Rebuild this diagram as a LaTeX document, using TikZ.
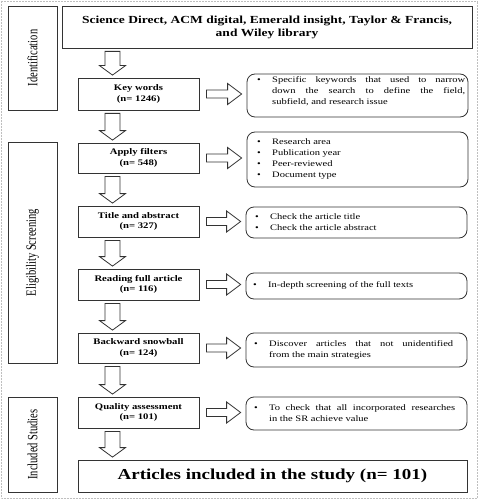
\documentclass[tikz,border=0pt]{standalone}
\usepackage{fontspec}
\usepackage{graphicx}
\setmainfont{Liberation Serif}
\usetikzlibrary{calc}
\newlength\bind
\setlength\bind{12pt}
\newcommand\bitem[1]{\par\noindent\hangindent=\bind\hangafter=1\makebox[\bind][l]{\textbullet}#1\par}
\newcommand\hs[1]{\scalebox{1.25}[1]{#1}}
\newcommand\two[2]{\hs{#1}\\\hs{#2}}
\newcommand\vs[1]{\scalebox{1}[1.35]{#1}}
\tikzset{
  frame/.style={draw=black!80, line width=0.8pt, inner sep=0pt},
  mainbox/.style={frame, minimum width=121pt, align=center,
     font=\bfseries\fontsize{8.56}{10.5}\selectfont},
  sidebox/.style={frame, minimum width=49pt},
  notebox/.style={frame, rounded corners=8pt, minimum width=221pt},
  notetext/.style={anchor=west, inner sep=0pt,
     font=\fontsize{8.4}{11}\selectfont},
  sidelabel/.style={rotate=90, inner sep=0pt, font=\fontsize{10.5}{11}\selectfont},
  blk/.style={draw=black!80, line width=0.8pt, fill=white, line join=miter},
}
\newcommand\darr[2]{%
  \draw[blk] let \p1=($(#1.south -| ax)+(0pt,-3pt)$), \p2=($(#2.north -| ax)+(0pt,2.5pt)$) in
   (\x1-7.5pt,\y1) -- (\x1+7.5pt,\y1) -- (\x1+7.5pt,\y2+9.5pt) -- (\x1+13pt,\y2+9.5pt)
   -- (\x1,\y2) -- (\x1-13pt,\y2+9.5pt) -- (\x1-7.5pt,\y2+9.5pt) -- cycle;}
\newcommand\rarr[2]{%
  \draw[blk] let \p1=($(#1.east)+(7pt,0pt)$), \p2=($(#2.west |- #1.east)+(-5pt,0pt)$) in
   (\x1,\y1+4pt) -- (\x2-14pt,\y1+4pt) -- (\x2-14pt,\y1+10.5pt) -- (\x2,\y1)
   -- (\x2-14pt,\y1-10.5pt) -- (\x2-14pt,\y1-4pt) -- (\x1,\y1-4pt) -- cycle;}
\begin{document}
\begin{tikzpicture}[x=1pt,y=-1pt]
\useasboundingbox (0,0) rectangle (479,500);
\draw[black!25, densely dotted, line width=0.5pt] (1,1) rectangle (477,498);
\coordinate (ax) at (112.5,0);

% phase boxes
\node[sidebox, minimum height=104pt] (idb) at (32.5,58) {};
\node[sidelabel] (idl) at (idb) {\vs{Identification}};
\node[sidebox, minimum height=221pt] (esb) at (32.5,252.5) {};
\node[sidelabel] (esl) at (esb) {\vs{Eligibility Screening}};
\node[sidebox, minimum height=95pt] (isb) at (32.5,444.5) {};
\node[sidelabel] (isl) at (isb) {\vs{Included Studies}};

% main column
\node[frame, minimum width=410pt, minimum height=42pt, align=center,
  font=\bfseries\fontsize{10.8}{13}\selectfont] (top) at (267,27)
  {\two{Science Direct, ACM digital, Emerald insight, Taylor \& Francis,}{and Wiley library}};
\node[mainbox, minimum height=32pt] (kw) at (138.5,94) {\two{Key words}{(n= 1246)}};
\node[mainbox, minimum height=30pt] (af) at (138.5,158) {\two{Apply filters}{(n= 548)}};
\node[mainbox, minimum height=31pt] (ta) at (138.5,221.5) {\two{Title and abstract}{(n= 327)}};
\node[mainbox, minimum height=31pt] (rf) at (138.5,284.5) {\two{Reading full article}{(n= 116)}};
\node[mainbox, minimum height=30pt] (bs) at (138.5,348) {\two{Backward snowball}{(n= 124)}};
\node[mainbox, minimum height=31pt] (qa) at (138.5,412.5) {\two{Quality assessment}{(n= 101)}};
\node[frame, minimum width=389pt, minimum height=32pt,
  font=\bfseries\fontsize{15.2}{18}\selectfont] (fin) at (272.5,476)
  {\hs{Articles included in the study (n= 101)}};

% note boxes
\node[notebox, minimum height=43pt] (s1) at (357.5,95.5) {};
\node[notetext] (s1t) at (257,91.5)
  {\hs{\parbox{166.4pt}{\bitem{Specific keywords that used to narrow\linebreak down the search to define the field,\linebreak subfield, and research issue}}}};
\node[notebox, minimum height=55pt] (s2) at (357.5,159.5) {};
\node[notetext] (s2t) at (257,158.5)
  {\hs{\parbox{160pt}{\raggedright\bitem{Research area}\bitem{Publication year}\bitem{Peer-reviewed}\bitem{Document type}}}};
\node[notebox, minimum height=31pt] (s3) at (356.5,222.5) {};
\node[notetext] (s3t) at (255,222)
  {\hs{\parbox{160pt}{\raggedright\bitem{Check the article title}\bitem{Check the article abstract}}}};
\node[notebox, minimum height=26pt] (s4) at (356.5,286) {};
\node[notetext] (s4t) at (253,285.5)
  {\hs{\parbox{160pt}{\raggedright\bitem{In-depth screening of the full texts}}}};
\node[notebox, minimum height=34pt] (s5) at (356.5,350) {};
\node[notetext] (s5t) at (254,350)
  {\hs{\parbox{159.2pt}{\bitem{Discover articles that not unidentified\linebreak from the main strategies}}}};
\node[notebox, minimum height=33pt] (s6) at (356.5,413.5) {};
\node[notetext] (s6t) at (254,413)
  {\hs{\parbox{160.8pt}{\bitem{To check that all incorporated researches\linebreak in the SR achieve value}}}};

% down block arrows
\darr{top}{kw}
\darr{kw}{af}
\darr{af}{ta}
\darr{ta}{rf}
\darr{rf}{bs}
\darr{bs}{qa}
\darr{qa}{fin}

% right block arrows
\rarr{kw}{s1}
\rarr{af}{s2}
\rarr{ta}{s3}
\rarr{rf}{s4}
\rarr{bs}{s5}
\rarr{qa}{s6}
\end{tikzpicture}
\end{document}
